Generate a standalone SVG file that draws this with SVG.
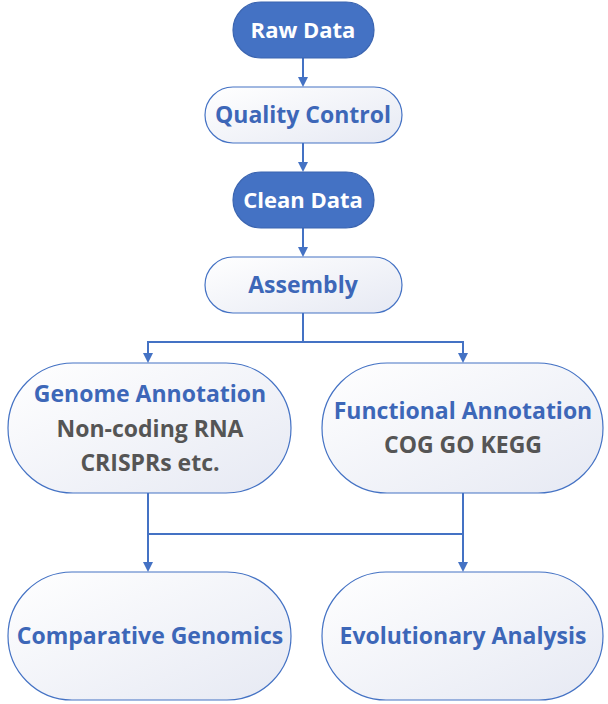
<svg xmlns="http://www.w3.org/2000/svg" width="608" height="704" viewBox="0 0 608 704">
<defs>
<linearGradient id="g" x1="0" y1="0" x2="1" y2="1"><stop offset="0" stop-color="#ffffff"/><stop offset="1" stop-color="#e6e9f3"/></linearGradient>
<marker id="a" markerWidth="10" markerHeight="10" refX="8" refY="5" orient="auto" markerUnits="userSpaceOnUse"><path d="M0,0 L10,5 L0,10 z" fill="#4472C4"/></marker>
<style>
.d{fill:#4472C4;stroke:#3a64b0;stroke-width:1.2}
.l{fill:url(#g);stroke:#4472C4;stroke-width:1.2}
text{font-family:"Open Sans","Liberation Sans",sans-serif;font-weight:bold;text-anchor:middle}
.w{fill:#fff;font-size:22px}
.b{fill:#3d67b8;font-size:23px}
.k{fill:#555;font-size:23px}
.c{fill:none;stroke:#4472C4;stroke-width:2}
</style>
</defs>
<g id="connectors">
<path class="c" d="M303,58 V85" marker-end="url(#a)"/>
<path class="c" d="M303,143 V170" marker-end="url(#a)"/>
<path class="c" d="M303,228 V255" marker-end="url(#a)"/>
<path class="c" d="M303,313 V342 H148 V361" marker-end="url(#a)"/>
<path class="c" d="M303,342 H463 V361" marker-end="url(#a)"/>
<path class="c" d="M148,493 V570" marker-end="url(#a)"/>
<path class="c" d="M463,493 V570" marker-end="url(#a)"/>
<path class="c" d="M148,534 H463"/>
</g>
<g id="raw"><rect class="d" x="233" y="2" width="141" height="56" rx="28"/><text class="w" x="303" y="38">Raw Data</text></g>
<g id="qc"><rect class="l" x="205" y="87" width="197" height="56" rx="28"/><text class="b" x="303" y="123">Quality Control</text></g>
<g id="clean"><rect class="d" x="233" y="172" width="141" height="56" rx="28"/><text class="w" x="303" y="208">Clean Data</text></g>
<g id="asm"><rect class="l" x="205" y="257" width="197" height="56" rx="28"/><text class="b" x="303" y="293">Assembly</text></g>
<g id="genome"><rect class="l" x="8" y="363" width="283" height="130" rx="65"/><text class="b" x="150" y="402">Genome Annotation</text><text class="k" x="150" y="437">Non-coding RNA</text><text class="k" x="150" y="471">CRISPRs etc.</text></g>
<g id="func"><rect class="l" x="322" y="363" width="281" height="130" rx="65"/><text class="b" x="463" y="419">Functional Annotation</text><text class="k" x="463" y="453">COG GO KEGG</text></g>
<g id="comp"><rect class="l" x="8" y="572" width="283" height="128" rx="64"/><text class="b" x="150" y="644">Comparative Genomics</text></g>
<g id="evo"><rect class="l" x="322" y="572" width="281" height="128" rx="64"/><text class="b" x="463" y="644">Evolutionary Analysis</text></g>
</svg>
